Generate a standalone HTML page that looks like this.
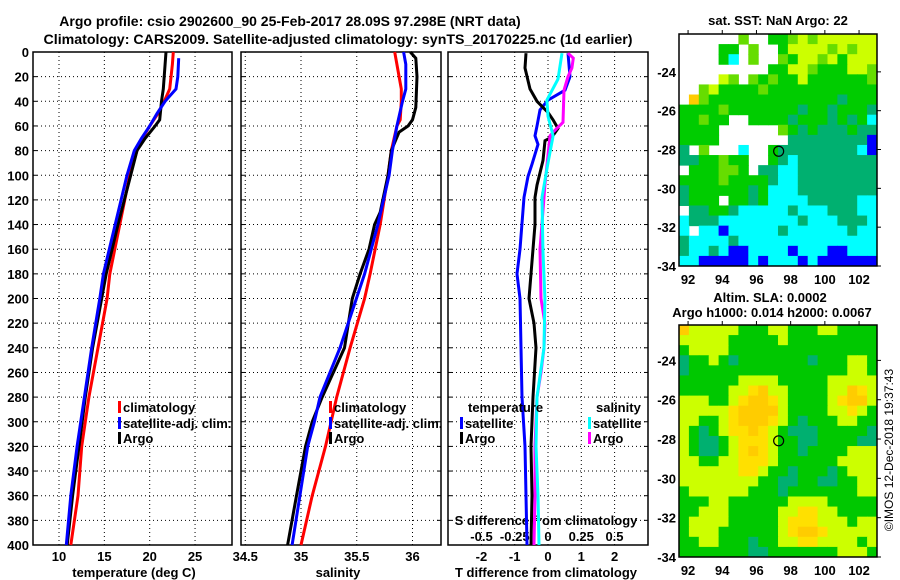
<!DOCTYPE html>
<html><head><meta charset="utf-8"><style>
body{margin:0;background:#fff;}
svg{display:block;font-family:"Liberation Sans",sans-serif;font-weight:bold;}
</style></head><body>
<svg id="s" width="900" height="580" viewBox="0 0 900 580">
<text x="290" y="26" font-size="14" text-anchor="middle">Argo profile: csio 2902600_90 25-Feb-2017 28.09S 97.298E (NRT data)</text>
<text x="338" y="44" font-size="14.2" text-anchor="middle">Climatology: CARS2009. Satellite-adjusted climatology: synTS_20170225.nc (1d earlier)</text>
<text x="778" y="25" font-size="13" text-anchor="middle">sat. SST: NaN Argo: 22</text>
<text x="770" y="302" font-size="13" text-anchor="middle">Altim. SLA: 0.0002</text>
<text x="772" y="317" font-size="13" text-anchor="middle">Argo h1000: 0.014 h2000: 0.0067</text>
<text transform="translate(893,450) rotate(-90)" font-size="12" font-weight="normal" text-anchor="middle">©IMOS 12-Dec-2018 19:37:43</text>
<text x="134" y="577" font-size="13" text-anchor="middle">temperature (deg C)</text>
<text x="338" y="577" font-size="13" text-anchor="middle">salinity</text>
<text x="546" y="577" font-size="13" text-anchor="middle">T difference from climatology</text>
<text x="546" y="525" font-size="13" text-anchor="middle">S difference from climatology</text>
</svg>
<script>
// ---- data ----
const depthTicks=[0,20,40,60,80,100,120,140,160,180,200,220,240,260,280,300,320,340,360,380,400];
const tempTicks=[10,15,20,25];
const salTicks=[34.5,35,35.5,36];
const tdTicks=[-2,-1,0,1,2];
const sdTicks=[-0.5,-0.25,0,0.25,0.5];
const climT_d=[0,10,30,40,50,60,70,80,100,140,180,200,240,280,320,360,400];
const climT_v=[22.6,22.5,22.2,21.6,20.9,20.0,19.2,18.6,17.8,16.7,15.6,15.3,14.3,13.3,12.5,12.1,11.3];
const satT_d=[5,20,30,40,50,60,70,80,100,140,180,200,240,280,320,360,400];
const satT_v=[23.2,23.1,22.9,21.7,20.8,20.0,19.1,18.3,17.5,16.2,14.9,14.5,13.6,12.8,12.0,11.3,10.8];
const argoT_d=[0,10,30,40,55,60,70,80,100,140,180,240,280,320,360,400];
const argoT_v=[21.8,21.7,21.5,21.3,21.1,20.6,19.5,18.6,17.9,16.5,15.2,13.7,12.9,12.2,11.5,10.9];
const climS_d=[0,10,30,40,55,60,80,100,140,180,200,240,280,300,320,360,400];
const climS_v=[35.84,35.86,35.9,35.9,35.89,35.86,35.81,35.78,35.71,35.62,35.57,35.44,35.32,35.27,35.22,35.10,35.0];
const satS_d=[0,10,30,40,60,80,100,140,180,240,280,300,320,360,400];
const satS_v=[35.92,35.94,35.94,35.91,35.86,35.82,35.79,35.69,35.57,35.35,35.17,35.12,35.06,34.99,34.92];
const argoS_d=[0,5,20,45,55,60,65,80,100,130,140,160,180,200,240,280,300,320,360,400];
const argoS_v=[35.98,36.03,36.04,36.03,36.0,35.96,35.88,35.81,35.78,35.71,35.66,35.61,35.53,35.46,35.39,35.19,35.1,35.04,34.96,34.88];
const tdSat_d=[1,20,31,39,47,60,68,75,91,101,118,160,180,200,240,280,320,360,400];
const tdSat_v=[0.6,0.66,0.51,0,-0.24,-0.33,-0.39,-0.3,-0.48,-0.6,-0.72,-0.84,-0.93,-0.84,-0.81,-0.78,-0.69,-0.66,-0.63];
const tdArgo_d=[1,13,30,40,49,55,62,69,72,88,108,118,140,180,200,220,240,280,320,360,400];
const tdArgo_v=[-0.66,-0.69,-0.54,-0.33,0,0.15,0.3,0.12,-0.09,-0.15,-0.33,-0.39,-0.39,-0.51,-0.57,-0.42,-0.36,-0.45,-0.51,-0.48,-0.51];
const sdSat_d=[1,22,39,52,68,90,118,160,200,240,280,320,360,400];
const sdSat_v=[0.105,0.075,-0.008,0,0.038,0,-0.045,-0.038,-0.023,-0.03,-0.083,-0.09,-0.075,-0.068];
const sdArgo_d=[1,5,13,20,31,57,65,68,108,118,160,200,220,240,260,280,320,360,400];
const sdArgo_v=[0.15,0.19,0.18,0.15,0.12,0.113,0.038,0.015,-0.023,-0.03,-0.06,-0.053,-0.023,-0.03,-0.053,-0.083,-0.098,-0.098,-0.105];
const latTicks=[-24,-26,-28,-30,-32,-34];
const lonTicks=[92,94,96,98,100,102];
const sstRows=[
"wwwwwwlwwgglylyyyyyy","wwwwggwlwwgyyyylylyy","wwwwgcwlwwlgyylygyyy","wwwwwwwwwggyylgggyyl",
"wwwwylwlglggyggggggl","wwlygggglggggggggggg","wolgggggggggggggtggg","gggglgggggggtggtgggt",
"gglggwwggggtgggtgtgc","ggggwwwwwwlgtgtttgtt","ggggwwwwwwwttttttttb","twlwwwcwwgttttttttcb",
"ttgglggwwgtctttttttt","wgggllgwttcctttttttt","gggglggggtcctttttttt","tggggggtgccctttttttt",
"tgggwggtgcccctttttcc","wttggtccccctccctttcc","ctttcccccccctccctttc","cwccbccccctcccccctcc",
"tcccctcccccccccccccc","tcctcbbccccbcccbbccc","ccbbbbbcbcccbcbbbbbb"];
const slaRows=[
"oyyyyyGGGyyGGGyyGGGG","yyyyyGGGGGyGGGGGGGGG","GyyyyGGGGGGGGGGGGGGG","tGGyGtGGGGGGGtGGGyyG",
"tGGGGGGGGGGGGGGGGyyG","GGGGGGyyyyGGGGGyyyyy","GGGGGyyYoyyGGGGyyoYy","yyyGGyYooYyGGGGyYooy",
"yyyyyYooooyGGGGyyYyG","yyGGyYoooYyGtGGGyyGG","yGtGyYYoYyGtttGGGGGt","yGttGyYYYyGGttGGGGtt",
"yGttGyYoYyGGtGGGGyyy","yyGGyyYYYyGGGGGGyyyy","yyyyyyYYyGGtGGGtGyyy","yyyyyyyyGGttGGttGGyy",
"GyyyyyyGGGtGGGGGGGyy","GGGyyGGGGGGyyyyGGGGG","GGyyyGGGGGyyYYyyGGGG","GyyyyGGGGGyYYYyyyGyy",
"GyyyGGGGGGyYooYyyyyy","GGyyGGGtGGyyYYyyyyGy","GGGGGGGttGGGGGGGyyyG"];
const argoLon=97.298, argoLat=-28.09;
</script>
<script>
const S=document.getElementById('s'),NS='http://www.w3.org/2000/svg';
function mk(t,a,p){const e=document.createElementNS(NS,t);for(const k in a)e.setAttribute(k,a[k]);(p||S).appendChild(e);return e;}
const Y0=52,Y1=545;
const yD=d=>Y0+(d/400)*(Y1-Y0);
const xT=v=>59+(v-10)*9.07;
const xS=v=>301+(v-35)*111.5;
const xTD=v=>548+v*33.3;
const xSD=v=>548+v*133;
const panels=[[33,232,tempTicks,xT,'temperature-panel'],[241,441,salTicks,xS,'salinity-panel'],[448,648,tdTicks,xTD,'difference-panel']];
panels.forEach((p,pi)=>{
  const g=mk('g',{});
  
  
  depthTicks.forEach(d=>{if(d>0&&d<400){const l=mk('line',{x1:p[0],x2:p[1],y1:yD(d),y2:yD(d),stroke:'#000','stroke-dasharray':'1,3'},g);}
    mk('line',{x1:p[0],x2:p[0]+4,y1:yD(d),y2:yD(d),stroke:'#000'},g);mk('line',{x1:p[1]-4,x2:p[1],y1:yD(d),y2:yD(d),stroke:'#000'},g);});
  p[2].forEach(v=>{const x=p[3](v);const l=mk('line',{x1:x,x2:x,y1:Y0,y2:Y1,stroke:'#000','stroke-dasharray':'1,3'},g);
    const t=mk('text',{x:x,y:561,'font-size':13,'text-anchor':'middle'},g);t.textContent=v;});
  const r=mk('rect',{x:p[0],y:Y0,width:p[1]-p[0],height:Y1-Y0,fill:'none',stroke:'#000','stroke-width':1.5},g);
  
});
sdTicks.forEach(v=>{const t=mk('text',{x:xSD(v),y:541,'font-size':13,'text-anchor':'middle'});t.textContent=String(v);
  });
depthTicks.forEach(d=>{const t=mk('text',{x:29,y:yD(d)+5,'font-size':13,'text-anchor':'end'});t.textContent=d;});
function line(ds,vs,fx,col,name){const pts=ds.map((d,i)=>fx(vs[i]).toFixed(1)+','+yD(d).toFixed(1)).join(' ');
  const e=mk('polyline',{points:pts,fill:'none',stroke:col,'stroke-width':3});}
line(climT_d,climT_v,xT,'#f00','climatology-temp-line');
line(argoT_d,argoT_v,xT,'#000','argo-temp-line');
line(satT_d,satT_v,xT,'#00f','satellite-temp-line');
line(climS_d,climS_v,xS,'#f00','climatology-sal-line');
line(argoS_d,argoS_v,xS,'#000','argo-sal-line');
line(satS_d,satS_v,xS,'#00f','satellite-sal-line');
line(tdSat_d,tdSat_v,xTD,'#00f','t-diff-satellite-line');
line(tdArgo_d,tdArgo_v,xTD,'#000','t-diff-argo-line');
line(sdArgo_d,sdArgo_v,xSD,'#f0f','s-diff-argo-line');
line(sdSat_d,sdSat_v,xSD,'#0ff','s-diff-satellite-line');
function leg(x,y,col,txt,name){const g=mk('g',{});
  if(col)mk('rect',{x:x,y:y-11,width:3,height:12,fill:col},g);
  const t=mk('text',{x:x+(col?5:0),y:y,'font-size':13},g);t.textContent=txt;}
leg(118,412,'#f00','climatology','legend-climatology');
leg(118,428,'#00f','satellite-adj. clim.','legend-satellite-adj');
leg(118,443,'#000','Argo','legend-argo');
leg(329,412,'#f00','climatology','legend-sal-climatology');
leg(329,428,'#00f','satellite-adj. clim.','legend-sal-satellite-adj');
leg(329,443,'#000','Argo','legend-sal-argo');
leg(468,412,null,'temperature','legend-temperature-heading');
leg(460,428,'#00f','satellite','legend-t-satellite');
leg(460,443,'#000','Argo','legend-t-argo');
leg(596,412,null,'salinity','legend-salinity-heading');
leg(588,428,'#0ff','satellite','legend-s-satellite');
leg(588,443,'#f0f','Argo','legend-s-argo');
const cols={w:'#fff',y:'#ccff00',g:'#00cc00',l:'#66dd00',t:'#00b070',c:'#00ffff',b:'#0000ff',o:'#ffcc00',G:'#00c800',Y:'#ffe000'};
function map(top,bot,rows,name,lat0,lat1){const L=679,R=877;const g=mk('g',{});
  const nr=rows.length,nc=rows[0].length,cw=(R-L)/nc,ch=(bot-top)/nr;
  rows.forEach((r,i)=>{for(let j=0;j<nc;j++){const c=cols[r[j]]||'#fff';if(c!=='#fff')mk('rect',{x:L+j*cw,y:top+i*ch,width:cw+0.5,height:ch+0.5,fill:c},g);}});
  mk('rect',{x:L,y:top,width:R-L,height:bot-top,fill:'none',stroke:'#000','stroke-width':1.5},g);
  const yL=la=>top+(lat0-la)/(lat0-lat1)*(bot-top);
  const xL=lo=>L+(lo-91.47)/(103.05-91.47)*(R-L);
  latTicks.forEach(la=>{const y=yL(la);mk('line',{x1:R,x2:R+4,y1:y,y2:y,stroke:'#000'},g);
    const t=mk('text',{x:676,y:y+5,'font-size':13,'text-anchor':'end'},g);t.textContent=la;});
  lonTicks.forEach(lo=>{const x=xL(lo);mk('line',{x1:x,x2:x,y1:top-4,y2:top,stroke:'#000'},g);
    const t=mk('text',{x:x,y:bot+18,'font-size':13,'text-anchor':'middle'},g);t.textContent=lo;});
  const c=mk('circle',{cx:xL(argoLon),cy:yL(argoLat),r:5,fill:'none',stroke:'#000','stroke-width':1.2},g);
  }
map(34,266,sstRows,'sst-map',-22.05,-34);
map(325,557,slaRows,'sla-map',-22.2,-34);
</script>
</body></html>
